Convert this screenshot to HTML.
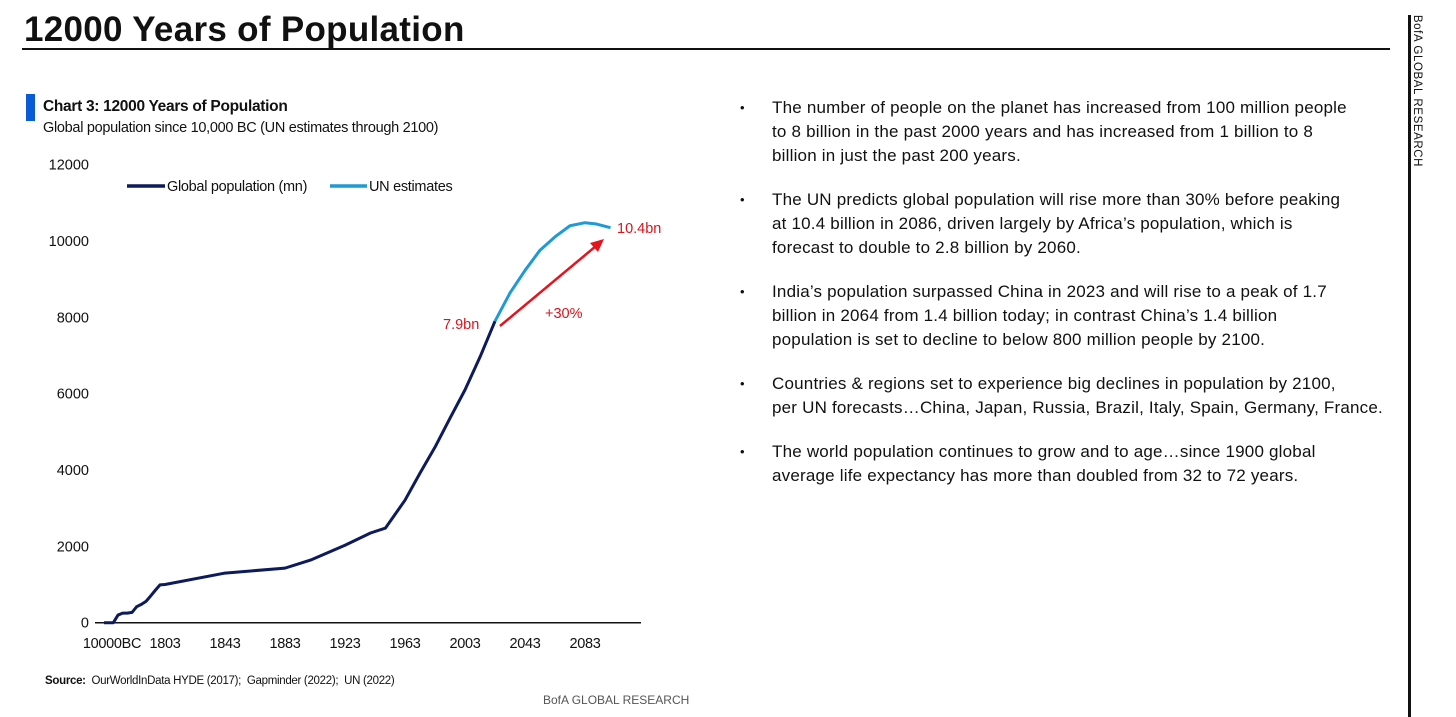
<!DOCTYPE html>
<html><head><meta charset="utf-8">
<style>
body{margin:0;width:1456px;height:717px;background:#fff;position:relative;overflow:hidden;font-family:"Liberation Sans",sans-serif;color:#111}
.abs{position:absolute}
#bul{position:absolute;left:740px;top:96px;width:660px;font-size:17px;line-height:24px;letter-spacing:0.2px;white-space:nowrap}
#bul .p{position:relative;padding-left:32px;margin-bottom:20px}
#bul .p:before{content:"•";position:absolute;left:0;top:0;font-size:13px}
</style></head><body>
<div class="abs" style="left:24px;top:10px;font-size:35px;font-weight:bold;letter-spacing:0.3px">12000 Years of Population</div>
<div class="abs" style="left:22px;top:48px;width:1368px;height:2px;background:#111"></div>
<div class="abs" style="left:1408px;top:15px;width:3px;height:702px;background:#111"></div>
<div class="abs" style="left:1340px;top:85px;width:154px;transform:rotate(90deg);font-size:11.5px;letter-spacing:0.6px;text-align:center">BofA GLOBAL RESEARCH</div>
<div class="abs" style="left:26px;top:94px;width:9px;height:27px;background:#0a5bd6"></div>
<div class="abs" style="left:43px;top:98px;font-size:15.5px;font-weight:bold;letter-spacing:-0.3px">Chart 3: 12000 Years of Population</div>
<div class="abs" style="left:43px;top:120px;font-size:14.5px;letter-spacing:-0.3px">Global population since 10,000 BC (UN estimates through 2100)</div>
<svg class="abs" style="left:0;top:0" width="700" height="717" id="chart"></svg>
<div class="abs" style="left:45px;top:675px;font-size:11.5px;letter-spacing:-0.3px"><b>Source:</b>&nbsp; OurWorldInData HYDE (2017);&nbsp; Gapminder (2022);&nbsp; UN (2022)</div>
<div class="abs" style="left:543px;top:693px;font-size:12px;color:#555">BofA GLOBAL RESEARCH</div>
<div id="bul">
<div class="p">The number of people on the planet has increased from 100 million people<br>to 8 billion in the past 2000 years and has increased from 1 billion to 8<br>billion in just the past 200 years.</div>
<div class="p">The UN predicts global population will rise more than 30% before peaking<br>at 10.4 billion in 2086, driven largely by Africa’s population, which is<br>forecast to double to 2.8 billion by 2060.</div>
<div class="p">India’s population surpassed China in 2023 and will rise to a peak of 1.7<br>billion in 2064 from 1.4 billion today; in contrast China’s 1.4 billion<br>population is set to decline to below 800 million people by 2100.</div>
<div class="p">Countries &amp; regions set to experience big declines in population by 2100,<br>per UN forecasts…China, Japan, Russia, Brazil, Italy, Spain, Germany, France.</div>
<div class="p">The world population continues to grow and to age…since 1900 global<br>average life expectancy has more than doubled from 32 to 72 years.</div>
</div>
<script>
const histValues=[0,0,0,200,250,250,270,420,480,560,700,850,990];
const modernYears=[1803,1843,1883,1900,1923,1940,1950,1963,1973,1983,1993,2003,2013,2023];
const modernPop=[1000,1300,1430,1640,2030,2350,2480,3210,3920,4600,5360,6100,6960,7900];
const unYears=[2023,2033,2043,2053,2063,2073,2083,2090,2100];
const unPop=[7900,8640,9230,9760,10110,10400,10480,10450,10350];
const yTicks=[0,2000,4000,6000,8000,10000,12000];
const xTickLabels=["10000BC","1803","1843","1883","1923","1963","2003","2043","2083"];
const xTickYears=[null,1803,1843,1883,1923,1963,2003,2043,2083];

const svg=document.getElementById('chart');const NS='http://www.w3.org/2000/svg';
const y0=622.7,yScale=458/12000;
const Y=v=>y0-v*yScale;
const XY=yr=>165+(yr-1803)*1.5;
const XH=i=>104+i*(160-104)/(histValues.length-1);
function mk(t,a,txt){const e=document.createElementNS(NS,t);for(const k in a)e.setAttribute(k,a[k]);if(txt!=null)e.textContent=txt;svg.appendChild(e);return e;}
yTicks.forEach(v=>{const e=mk('text',{x:89,y:Y(v)+5,'text-anchor':'end','font-size':14.5,fill:'#111'},v);

});
const ax=mk('line',{x1:95,x2:641,y1:y0,y2:y0,stroke:'#111','stroke-width':1.5});


xTickLabels.forEach((l,i)=>{const x=xTickYears[i]==null?XH(0)+8:XY(xTickYears[i]);const e=mk('text',{x:x,y:648,'text-anchor':'middle','font-size':14.5,fill:'#111','letter-spacing':-0.3},l);

});
let pts=histValues.map((v,i)=>XH(i)+','+Y(v)).concat(modernYears.map((yr,i)=>XY(yr)+','+Y(modernPop[i])));
const l1=mk('polyline',{points:pts.join(' '),fill:'none',stroke:'#0d1a5c','stroke-width':3,'stroke-linejoin':'round'});


const l2=mk('polyline',{points:unYears.map((yr,i)=>XY(yr)+','+Y(unPop[i])).join(' '),fill:'none',stroke:'#1e9ad6','stroke-width':3,'stroke-linejoin':'round'});


const lg1=mk('line',{x1:127,x2:165,y1:186,y2:186,stroke:'#0d1a5c','stroke-width':3.5});


const lt1=mk('text',{x:167,y:191,'font-size':14.5,fill:'#111','letter-spacing':-0.3},'Global population (mn)');


const lg2=mk('line',{x1:330,x2:367,y1:186,y2:186,stroke:'#1e9ad6','stroke-width':3.5});


const lt2=mk('text',{x:369,y:191,'font-size':14.5,fill:'#111','letter-spacing':-0.3},'UN estimates');


const ar=mk('line',{x1:500,y1:326,x2:596,y2:246,stroke:'#e8121c','stroke-width':2.5});


const ah=mk('polygon',{points:'604,239 590,243 598,252',fill:'#e8121c'});


const a1=mk('text',{x:443,y:329,'font-size':14.5,fill:'#d8141c'},'7.9bn');


const a2=mk('text',{x:545,y:318,'font-size':14.5,fill:'#d8141c'},'+30%');


const a3=mk('text',{x:617,y:233,'font-size':14.5,fill:'#d8141c'},'10.4bn');


</script>
</body></html>
